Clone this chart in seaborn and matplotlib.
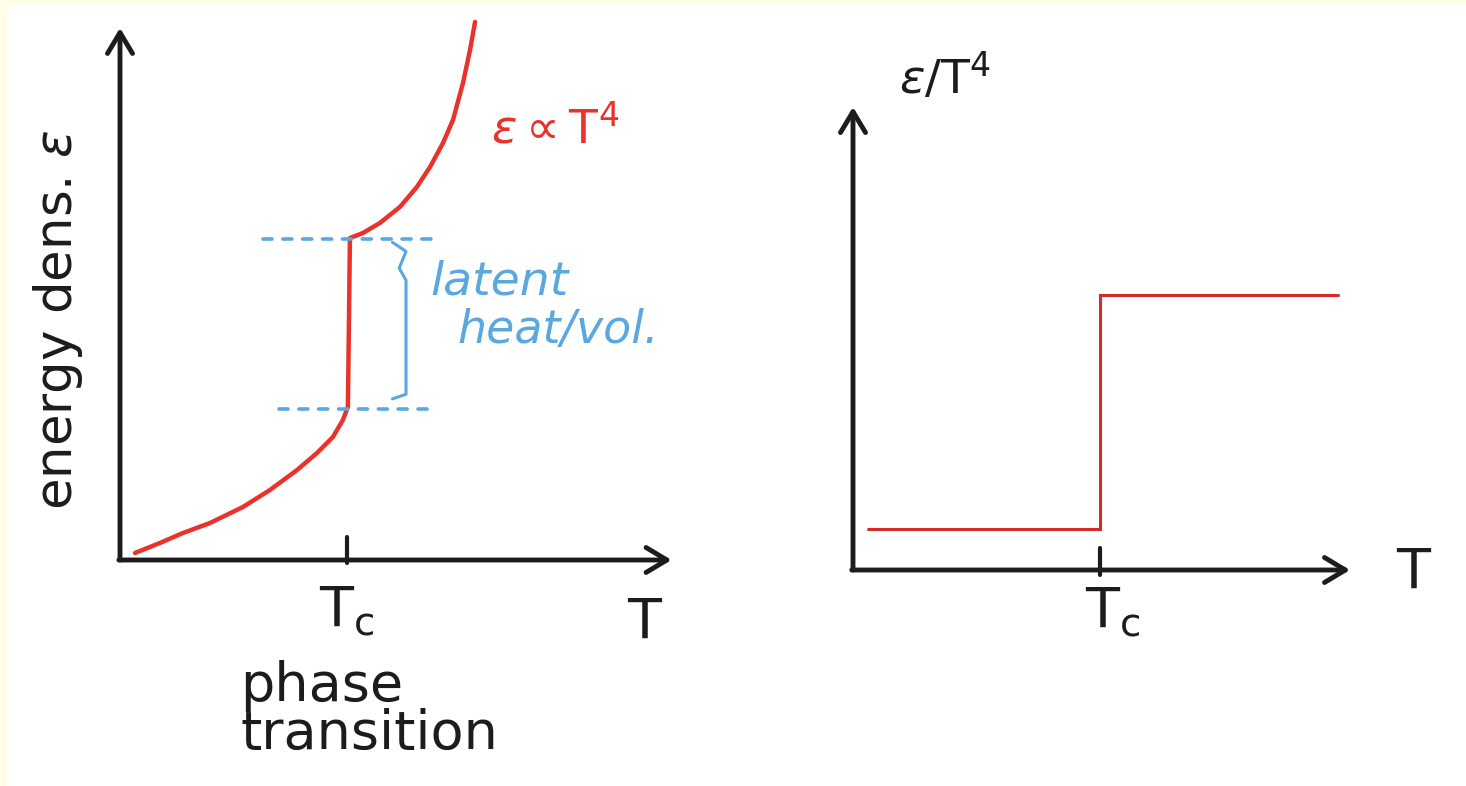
import matplotlib.pyplot as plt
import matplotlib.patches as mpatches
import seaborn as sns
import pandas as pd

sns.set_theme(style="white")
plt.rcParams['font.family'] = ['DejaVu Sans']
plt.rcParams['mathtext.fontset'] = 'dejavusans'

# --- data (sketch units, T_c = 1) ---
# left panel: energy density vs T, first-order transition
T_curve = [0.066, 0.176, 0.278, 0.396, 0.542, 0.661, 0.780, 0.868, 0.938, 0.982, 1.004,
           1.013, 1.070, 1.145, 1.233, 1.308, 1.366, 1.423, 1.467, 1.511, 1.542, 1.564]
eps_curve = [0.046, 0.112, 0.178, 0.243, 0.349, 0.461, 0.592, 0.704, 0.809, 0.921, 1.007,
             2.118, 2.151, 2.217, 2.322, 2.454, 2.586, 2.743, 2.895, 3.138, 3.355, 3.539]
eps_below = 0.99          # energy density just below T_c
eps_above = 2.11          # energy density just above T_c
dash_low_range = [0.70, 1.37]
dash_high_range = [0.63, 1.37]
brace_T = 1.26

# right panel: eps/T^4 step
T_step = [0.06, 1.0, 1.0, 1.96]
ratio_step = [0.41, 0.41, 2.75, 2.75]

Tc = 1.0

RED = '#E8322B'
RED2 = '#D42A2A'
BLUE = '#5BA7E0'
INK = '#1c1c1c'

fig = plt.figure(figsize=(14.66, 7.86), dpi=100)
fig.patch.set_facecolor('#FFFDE6')
fig.add_artist(mpatches.Rectangle((7 / 1466, 0), 1, 1 - 4 / 786,
                                  transform=fig.transFigure,
                                  facecolor='white', edgecolor='none', zorder=-1))

ax1 = fig.add_axes([120 / 1466, 226 / 786, 560 / 1466, 545 / 786])
ax2 = fig.add_axes([853 / 1466, 216 / 786, 502 / 1466, 470 / 786])
for ax in (ax1, ax2):
    ax.set_facecolor('none')
    ax.axis('off')

ax1.set_xlim(0, 2.467)
ax1.set_ylim(0, 3.585)
ax2.set_xlim(0, 2.03)
ax2.set_ylim(0, 4.70)


def draw_axes(ax, xend, yend, tick_lo, tick_hi):
    arrow = dict(arrowstyle='->,head_length=0.75,head_width=0.45',
                 lw=3.5, color=INK, mutation_scale=20, shrinkA=0, shrinkB=0)
    ax.annotate('', xy=(xend, 0), xytext=(-0.005, 0), arrowprops=arrow,
                annotation_clip=False)
    ax.annotate('', xy=(0, yend), xytext=(0, 0), arrowprops=arrow,
                annotation_clip=False)
    ax.plot([Tc, Tc], [tick_lo, tick_hi], color=INK, lw=3, clip_on=False,
            solid_capstyle='round')


# ---------------- left panel ----------------
draw_axes(ax1, 2.43, 3.50, -0.02, 0.15)

df = pd.DataFrame({'T': T_curve, 'eps': eps_curve})
sns.lineplot(data=df, x='T', y='eps', sort=False, estimator=None,
             color=RED, lw=3.2, ax=ax1, legend=False)
line = ax1.lines[-1]
line.set_clip_on(False)
line.set_solid_joinstyle('round')
line.set_solid_capstyle('round')

sns.lineplot(x=dash_low_range, y=[eps_below] * 2, color=BLUE, lw=2.6,
             linestyle=(0, (2.5, 3)), ax=ax1)
sns.lineplot(x=dash_high_range, y=[eps_above] * 2, color=BLUE, lw=2.6,
             linestyle=(0, (2.5, 3)), ax=ax1)
for line in ax1.lines[-2:]:
    line.set_dash_capstyle('round')

# curly brace for the latent heat
bx = [brace_T - 0.06, brace_T, brace_T - 0.03, brace_T, brace_T, brace_T - 0.06]
by = [eps_above - 0.02, eps_above - 0.08, eps_above - 0.19,
      eps_above - 0.27, eps_below + 0.10, eps_below + 0.07]
ax1.plot(bx, by, color=BLUE, lw=2.2, solid_joinstyle='round',
         solid_capstyle='round')

ax1.text(1.916, 2.83, r'$\varepsilon \propto \mathrm{T}^4$', color=RED, fontsize=34,
         ha='center', va='center')
ax1.text(1.366, 1.83, 'latent', color=BLUE, fontsize=34, style='italic',
         ha='left', va='center')
ax1.text(1.485, 1.51, 'heat/vol.', color=BLUE, fontsize=33, style='italic',
         ha='left', va='center')
ax1.text(-0.273, 1.58, r'energy dens. $\varepsilon$', rotation=90,
         color=INK, fontsize=37, ha='center', va='center')
ax1.text(1.0, -0.33, r'$\mathrm{T}_\mathrm{c}$', color=INK, fontsize=40,
         ha='center', va='center')
ax1.text(2.31, -0.41, 'T', color=INK, fontsize=40, ha='center', va='center')
ax1.text(0.529, -0.66, 'phase\ntransition', color=INK, fontsize=39,
         ha='left', va='top', linespacing=0.9)

# ---------------- right panel ----------------
draw_axes(ax2, 2.01, 4.63, -0.05, 0.22)

sns.lineplot(x=T_step, y=ratio_step, sort=False, estimator=None,
             color=RED2, lw=2.2, ax=ax2)
ax2.lines[-1].set_solid_joinstyle('miter')

ax2.text(0.372, 4.92, r'$\varepsilon/\mathrm{T}^4$', color=INK, fontsize=34,
         ha='center', va='center')
ax2.text(2.267, -0.03, 'T', color=INK, fontsize=40, ha='center', va='center')
ax2.text(1.05, -0.42, r'$\mathrm{T}_\mathrm{c}$', color=INK, fontsize=40,
         ha='center', va='center')

fig.savefig('out.png', dpi=100, facecolor=fig.get_facecolor())
